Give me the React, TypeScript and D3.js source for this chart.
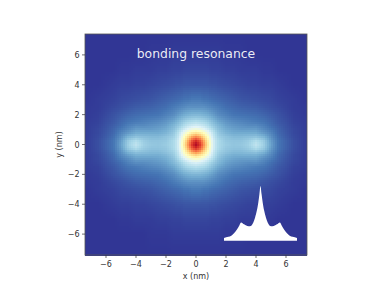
import React from "react";
import * as d3 from "d3";

// map values; one quadrant, the map is mirrored in x and y
const xNodes = [0, 0.25, 0.5, 0.75, 1, 1.25, 1.5, 2, 2.5, 3, 3.5, 4, 4.5, 5, 5.5, 6, 6.5, 7.4];
const yNodes = [0, 0.25, 0.5, 0.75, 1, 1.25, 1.5, 2, 2.5, 3, 4, 5, 6, 7.4];
const intensity = [
  [0.98, 0.9, 0.76, 0.6, 0.45, 0.35, 0.3, 0.27, 0.255, 0.26, 0.28, 0.34, 0.28, 0.18, 0.1, 0.07, 0.04, 0.01],
  [0.9, 0.84, 0.72, 0.57, 0.44, 0.35, 0.3, 0.26, 0.25, 0.25, 0.27, 0.31, 0.27, 0.17, 0.1, 0.07, 0.04, 0.01],
  [0.76, 0.72, 0.62, 0.52, 0.41, 0.33, 0.28, 0.25, 0.23, 0.23, 0.24, 0.25, 0.22, 0.15, 0.09, 0.06, 0.035, 0.01],
  [0.6, 0.57, 0.52, 0.45, 0.38, 0.31, 0.26, 0.22, 0.2, 0.2, 0.2, 0.2, 0.17, 0.13, 0.08, 0.055, 0.03, 0.01],
  [0.46, 0.45, 0.42, 0.38, 0.33, 0.28, 0.24, 0.2, 0.18, 0.17, 0.17, 0.17, 0.14, 0.11, 0.075, 0.05, 0.03, 0.01],
  [0.38, 0.37, 0.35, 0.32, 0.28, 0.25, 0.22, 0.18, 0.16, 0.15, 0.14, 0.14, 0.12, 0.09, 0.065, 0.045, 0.025, 0.01],
  [0.32, 0.31, 0.3, 0.28, 0.25, 0.22, 0.19, 0.16, 0.14, 0.13, 0.12, 0.11, 0.1, 0.08, 0.055, 0.04, 0.02, 0.01],
  [0.22, 0.22, 0.21, 0.2, 0.18, 0.16, 0.14, 0.12, 0.1, 0.095, 0.09, 0.085, 0.075, 0.06, 0.045, 0.03, 0.015, 0.005],
  [0.15, 0.15, 0.15, 0.14, 0.13, 0.12, 0.11, 0.09, 0.08, 0.07, 0.065, 0.06, 0.05, 0.04, 0.03, 0.02, 0.01, 0.005],
  [0.11, 0.11, 0.1, 0.1, 0.09, 0.085, 0.08, 0.07, 0.06, 0.05, 0.045, 0.04, 0.035, 0.03, 0.02, 0.015, 0.01, 0],
  [0.05, 0.05, 0.05, 0.05, 0.045, 0.045, 0.04, 0.035, 0.03, 0.025, 0.02, 0.02, 0.015, 0.015, 0.01, 0.005, 0, 0],
  [0.025, 0.025, 0.025, 0.025, 0.02, 0.02, 0.02, 0.015, 0.015, 0.01, 0.01, 0.01, 0.005, 0.005, 0, 0, 0, 0],
  [0.01, 0.01, 0.01, 0.01, 0.01, 0.01, 0.01, 0.005, 0.005, 0.005, 0, 0, 0, 0, 0, 0, 0, 0],
  [0, 0, 0, 0, 0, 0, 0, 0, 0, 0, 0, 0, 0, 0, 0, 0, 0, 0],
];

// inset spectrum, one half, mirrored about its centre
const specOffset = [0, 0.03, 0.06, 0.1, 0.15, 0.2, 0.29, 0.36, 0.45, 0.53, 0.58, 0.65, 0.72, 0.8, 0.88, 1];
const specValue = [1, 0.85, 0.7, 0.55, 0.42, 0.33, 0.265, 0.27, 0.3, 0.335, 0.28, 0.2, 0.14, 0.09, 0.07, 0.05];

const xTicks = [-6, -4, -2, 0, 2, 4, 6];
const yTicks = [-6, -4, -2, 0, 2, 4, 6];
const palette = ["#313695", "#4575b4", "#74add1", "#abd9e9", "#e0f3f8", "#ffffbf", "#fee090", "#fdae61", "#f46d43", "#d73027", "#a50026"];

const width = 382;
const height = 287;
const left = 85;
const right = 307;
const top = 34;
const bottom = 255;
const limit = 7.4;
const font = "'DejaVu Sans', sans-serif";
const ink = "#333";

const x = d3.scaleLinear().domain([-limit, limit]).range([left, right]);
const y = d3.scaleLinear().domain([-limit, limit]).range([bottom, top]);
const color = d3
  .scaleLinear<string>()
  .domain(palette.map((_, i) => i / 10))
  .range(palette)
  .clamp(true);

const xPos = d3.scaleLinear().domain(xNodes).range(xNodes.map((_, i) => i)).clamp(true);
const yPos = d3.scaleLinear().domain(yNodes).range(yNodes.map((_, i) => i)).clamp(true);

// reads the table at a map position
const valueAt = (px: number, py: number) => {
  const fx = xPos(Math.abs(px));
  const fy = yPos(Math.abs(py));
  const i = Math.min(Math.floor(fx), xNodes.length - 2);
  const j = Math.min(Math.floor(fy), yNodes.length - 2);
  const a = fx - i;
  const b = fy - j;
  return (
    (1 - b) * ((1 - a) * intensity[j][i] + a * intensity[j][i + 1]) +
    b * ((1 - a) * intensity[j + 1][i] + a * intensity[j + 1][i + 1])
  );
};

const cellSize = 2;
const cells: { px: number; py: number; v: number }[] = [];
for (let py = top; py < bottom; py += cellSize) {
  for (let px = left; px < right; px += cellSize) {
    cells.push({
      px,
      py,
      v: valueAt(x.invert(px + cellSize / 2), y.invert(py + cellSize / 2)),
    });
  }
}

const specX = d3.scaleLinear().domain([-1, 1]).range([224, 297]);
const specY = d3.scaleLinear().domain([0, 1]).range([240.7, 186]);
const specPoints: [number, number][] = [
  ...specOffset.map((d, i) => [-d, specValue[i]] as [number, number]).reverse(),
  ...specOffset.slice(1).map((d, i) => [d, specValue[i + 1]] as [number, number]),
];
const specArea = d3
  .area<[number, number]>()
  .x((d) => specX(d[0]))
  .y0(specY(0))
  .y1((d) => specY(d[1]))
  .curve(d3.curveMonotoneX);

const minus = (d: number) => String(d).replace("-", "\u2212");

export default function App() {
  return (
    <svg
      width={width}
      height={height}
      style={{ position: "absolute", left: 0, top: 0, background: "#fff" }}
    >
      <g shapeRendering="crispEdges">
        {cells.map((c, i) => (
          <rect key={i} x={c.px} y={c.py} width={cellSize} height={cellSize} fill={color(c.v)} />
        ))}
      </g>
      <path d={specArea(specPoints) ?? ""} fill="#fff" />
      <text
        x={x(0)}
        y={58}
        textAnchor="middle"
        fill="#fff"
        fillOpacity={0.92}
        fontFamily={font}
        fontSize={12.4}
      >
        bonding resonance
      </text>
      <rect x={left} y={top} width={right - left} height={bottom - top} fill="none" stroke="#555" strokeWidth={0.8} />
      {xTicks.map((t) => (
        <g key={t}>
          <line x1={x(t)} x2={x(t)} y1={bottom} y2={bottom + 3} stroke={ink} strokeWidth={0.7} />
          <text x={x(t)} y={bottom + 12} textAnchor="middle" fontFamily={font} fontSize={8} fill={ink}>
            {minus(t)}
          </text>
        </g>
      ))}
      {yTicks.map((t) => (
        <g key={t}>
          <line x1={left - 3} x2={left} y1={y(t)} y2={y(t)} stroke={ink} strokeWidth={0.7} />
          <text x={left - 5.5} y={y(t) + 3} textAnchor="end" fontFamily={font} fontSize={8} fill={ink}>
            {minus(t)}
          </text>
        </g>
      ))}
      <text x={x(0)} y={279} textAnchor="middle" fontFamily={font} fontSize={8} fill={ink}>
        x (nm)
      </text>
      <text
        transform={`translate(62,${y(0)}) rotate(-90)`}
        textAnchor="middle"
        fontFamily={font}
        fontSize={8}
        fill={ink}
      >
        y (nm)
      </text>
    </svg>
  );
}
